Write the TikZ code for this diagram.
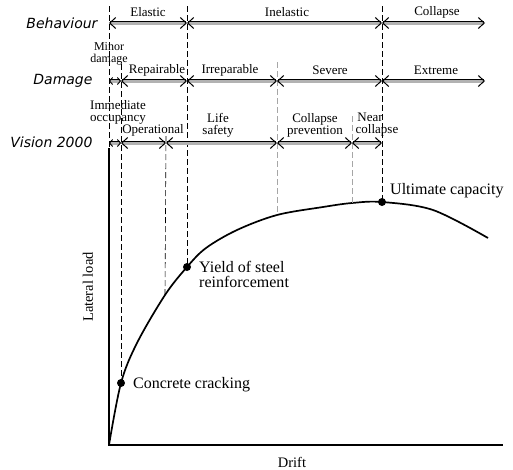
\documentclass[tikz,border=0pt]{standalone}
\usepackage{fontspec}
\setmainfont{Liberation Serif}
\newfontfamily\hdfont{DejaVu Sans}
\usetikzlibrary{arrows.meta}
\begin{document}
\begin{tikzpicture}[x=1pt,y=-1pt,
  dbl/.style={draw=black, line width=0.9pt, double=gray!60, double distance=3pt,
    {Straight Barb[length=6pt,width=11pt,line width=1pt]}-{Straight Barb[length=6pt,width=11pt,line width=1pt]}},
  sdbl/.style={dbl, {Straight Barb[length=3pt,width=7pt,line width=0.9pt]}-{Straight Barb[length=3pt,width=7pt,line width=0.9pt]}},
  guide/.style={dash pattern=on 6pt off 3pt, line width=0.6pt},
  lguide/.style={guide, draw=gray!70},
  head/.style={font=\hdfont\itshape\fontsize{14}{16}\selectfont, anchor=east},
  lab/.style={font=\fontsize{13}{12}\selectfont, align=center, inner sep=0pt},
  big/.style={font=\fontsize{16}{15}\selectfont, align=left, inner sep=0pt, anchor=west},
  dot/.style={circle, fill=black, inner sep=0pt, minimum size=8pt}
]
\useasboundingbox (0,0) rectangle (513,469);

% row headings
\node[head] (hbeh) at (101,23) {Behaviour};
\node[head] (hdam) at (96,81) {Damage};
\node[head] (hvis) at (96,142) {Vision 2000};

% axes
\coordinate (O) at (109,445);
\coordinate (Ytop) at (109,148);
\coordinate (Xend) at (503,445);
\draw[line width=1.1pt] (Ytop) -- (O) -- (Xend);
\node[lab, font=\fontsize{14.5}{14}\selectfont] (drift) at (292,462) {Drift};
\node[lab, font=\fontsize{14.5}{14}\selectfont, rotate=90] (lload) at (88,287) {Lateral load};

% curve points
\coordinate (c1) at (121,383);
\coordinate (c2) at (165,295);
\coordinate (c3) at (187,267);
\coordinate (c4) at (277,215);
\coordinate (c5) at (352,203);
\coordinate (c6) at (382,202);
\draw[line width=1.7pt] plot[smooth, tension=0.55] coordinates
  {(109,445) (121,383) (137,343) (165,295) (187,267) (206,248) (237,230) (277,215) (323,207) (352,203) (382,202) (433,210) (488,238)};

% dashed guides
\coordinate (t0) at (109,6);
\coordinate (t1) at (121,64);
\coordinate (t2) at (166,136);
\coordinate (t3) at (187,6);
\coordinate (t4) at (277,62);
\coordinate (t5) at (352,116);
\coordinate (t6) at (382,6);
\draw[guide] (t0) -- (Ytop);
\draw[guide] (t1) -- (c1);
\draw[guide] (t2) -- (c2);
\draw[guide] (t3) -- (c3);
\draw[lguide] (t4) -- (c4);
\draw[lguide] (t5) -- (c5);
\draw[guide] (t6) -- (c6);

% Behaviour row
\coordinate (b0) at (109,23);
\coordinate (b1) at (187,23);
\coordinate (b2) at (382,23);
\coordinate (b3) at (485,23);
\draw[dbl] (b0) -- (b1);
\draw[dbl] (b1) -- (b2);
\draw[dbl] (b2) -- (b3);
\node[lab] (lel) at (148,12) {Elastic};
\node[lab] (lin) at (287,12) {Inelastic};
\node[lab] (lco) at (437,12) {Collapse};

% Damage row
\coordinate (d0) at (109,81);
\coordinate (d1) at (121,81);
\coordinate (d2) at (187,81);
\coordinate (d3) at (277,81);
\coordinate (d4) at (382,81);
\coordinate (d5) at (485,81);
\draw[sdbl] (d0) -- (d1);
\draw[dbl] (d1) -- (d2);
\draw[dbl] (d2) -- (d3);
\draw[dbl] (d3) -- (d4);
\draw[dbl] (d4) -- (d5);
\node[lab, font=\fontsize{12}{12}\selectfont] (lmin) at (109,54) {Minor\\damage};
\node[lab] (lrep) at (157,70) {Repairable};
\node[lab] (lirr) at (230,70) {Irreparable};
\node[lab] (lsev) at (330,70) {Severe};
\node[lab] (lext) at (436,70) {Extreme};

% Vision 2000 row
\coordinate (v0) at (109,143);
\coordinate (v1) at (121,143);
\coordinate (v2) at (166,143);
\coordinate (v3) at (277,143);
\coordinate (v4) at (352,143);
\coordinate (v5) at (382,143);
\draw[sdbl] (v0) -- (v1);
\draw[dbl] (v1) -- (v2);
\draw[dbl] (v2) -- (v3);
\draw[dbl] (v3) -- (v4);
\draw[dbl] (v4) -- (v5);
\node[lab] (limm) at (118,112) {Immediate\\occupancy};
\node[lab] (lop) at (153,130) {Operational};
\node[lab] (lls) at (218,125) {Life\\safety};
\node[lab] (lcp) at (315,125) {Collapse\\prevention};
\node[lab] (lnc) at (370,125) {Near\\\hspace*{14pt}collapse};

% points on the curve
\node[dot] (pcc) at (c1) {};
\node[dot] (pys) at (c3) {};
\node[dot] (puc) at (c6) {};
\node[big] (tcc) at (133,385) {Concrete cracking};
\node[big] (tys) at (199,274) {Yield of steel\\reinforcement};
\node[big] (tuc) at (390,191) {Ultimate capacity};
\end{tikzpicture}
\end{document}
